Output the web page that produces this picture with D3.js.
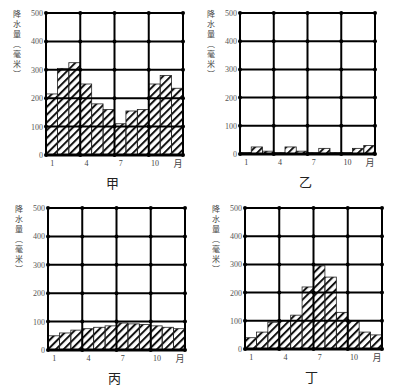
<!DOCTYPE html>
<html>
<head>
<meta charset="utf-8">
<script src="https://cdn.jsdelivr.net/npm/d3@7"></script>
<style>
  body { margin: 0; background: #fff; }
  text { font-family: "Liberation Serif", "Noto Sans CJK SC", serif; }
</style>
</head>
<body>
<svg id="vis" width="401" height="390"></svg>
<script>
// monthly precipitation (mm)
var months = [1, 2, 3, 4, 5, 6, 7, 8, 9, 10, 11, 12];
var monthTicks = [1, 4, 7, 10];
var yTicks = [0, 100, 200, 300, 400, 500];
var rainJia = [215, 305, 325, 250, 180, 160, 110, 155, 160, 250, 280, 235];
var rainYi = [5, 25, 10, 5, 25, 10, 5, 20, 5, 5, 20, 30];
var rainBing = [50, 60, 70, 75, 80, 85, 95, 92, 90, 85, 80, 75];
var rainDing = [40, 60, 95, 100, 120, 220, 295, 255, 130, 100, 60, 50];
var titles = ["甲", "乙", "丙", "丁"];

var panels = [
  {data: rainJia, x: 46, y: 13, w: 137, h: 142, title: titles[0]},
  {data: rainYi, x: 240, y: 13, w: 135, h: 141, title: titles[1]},
  {data: rainBing, x: 48, y: 208, w: 137, h: 142, title: titles[2]},
  {data: rainDing, x: 245, y: 208, w: 137, h: 141, title: titles[3]}
];

var vis = d3.select("#vis");

var defs = vis.append("defs");
defs.append("pattern")
    .attr("id", "hatch")
    .attr("patternUnits", "userSpaceOnUse")
    .attr("width", 5.5)
    .attr("height", 5.5)
    .attr("patternTransform", "rotate(45)")
  .append("rect")
    .attr("x", 0).attr("y", 0)
    .attr("width", 2).attr("height", 5.5)
    .attr("fill", "#111");

panels.forEach(function (p) {
  var g = vis.append("g").attr("transform", "translate(" + p.x + "," + p.y + ")");

  var xScale = d3.scaleLinear().domain([0, 12]).range([0, p.w]);
  var yScale = d3.scaleLinear().domain([0, 500]).range([p.h, 0]);

  // bars
  g.selectAll("rect.bar")
      .data(p.data)
    .enter().append("rect")
      .attr("class", "bar")
      .attr("x", function (d, i) { return xScale(i); })
      .attr("width", xScale(1) - xScale(0))
      .attr("y", function (d) { return yScale(d); })
      .attr("height", function (d) { return p.h - yScale(d); })
      .attr("fill", "url(#hatch)")
      .attr("stroke", "#222")
      .attr("stroke-width", 0.8);

  // grid
  g.selectAll("line.h")
      .data(yTicks.slice(1, 5))
    .enter().append("line")
      .attr("x1", 0).attr("x2", p.w)
      .attr("y1", yScale).attr("y2", yScale)
      .attr("stroke", "#000").attr("stroke-width", 2);

  g.selectAll("line.v")
      .data([3, 6, 9])
    .enter().append("line")
      .attr("x1", xScale).attr("x2", xScale)
      .attr("y1", 0).attr("y2", p.h)
      .attr("stroke", "#000").attr("stroke-width", 2);

  // dots at crossings
  var pts = [];
  [0, 3, 6, 9, 12].forEach(function (m) {
    yTicks.forEach(function (v) { pts.push([m, v]); });
  });
  g.selectAll("circle.dot")
      .data(pts)
    .enter().append("circle")
      .attr("cx", function (d) { return xScale(d[0]); })
      .attr("cy", function (d) { return yScale(d[1]); })
      .attr("r", 2)
      .attr("fill", "#000");

  // frame
  g.append("rect")
      .attr("width", p.w).attr("height", p.h)
      .attr("fill", "none")
      .attr("stroke", "#000").attr("stroke-width", 2);
  g.append("line")
      .attr("x1", 0).attr("x2", p.w)
      .attr("y1", p.h).attr("y2", p.h)
      .attr("stroke", "#000").attr("stroke-width", 3);

  // y axis labels
  var yAxis = d3.axisLeft(yScale).tickValues(yTicks).tickSize(0).tickPadding(3);
  var ya = g.append("g").call(yAxis);
  ya.select(".domain").remove();
  ya.selectAll("text")
      .attr("font-size", 8)
      .attr("fill", "#555")
      .style("font-family", "Liberation Serif, serif");

  // x axis labels
  var xAxis = d3.axisBottom(xScale)
      .tickValues(monthTicks.map(function (m) { return m - 0.5; }))
      .tickFormat(function (d) { return d + 0.5; })
      .tickSize(0).tickPadding(5);
  var xa = g.append("g").attr("transform", "translate(0," + p.h + ")").call(xAxis);
  xa.select(".domain").remove();
  xa.selectAll("text")
      .attr("font-size", 8)
      .attr("fill", "#444");

  g.append("text")
      .attr("x", p.w - 5).attr("y", p.h + 12)
      .attr("text-anchor", "middle")
      .attr("font-size", 9)
      .attr("fill", "#444")
      .text("月");

  // y title, stacked vertically
  var chars = ["降", "水", "量", "︵", "毫", "米", "︶"];
  g.selectAll("text.yt")
      .data(chars)
    .enter().append("text")
      .attr("x", -29)
      .attr("y", function (d, i) { return 4 + i * 10; })
      .attr("text-anchor", "middle")
      .attr("font-size", 8)
      .attr("fill", "#444")
      .style("font-family", "Noto Sans CJK SC")
      .text(function (d) { return d; });

  // panel title
  g.append("text")
      .attr("x", p.w / 2 - 2)
      .attr("y", p.h + 33)
      .attr("text-anchor", "middle")
      .attr("font-size", 13)
      .attr("fill", "#222")
      .style("font-family", "Noto Sans CJK SC")
      .text(p.title);
});
</script>
</body>
</html>
